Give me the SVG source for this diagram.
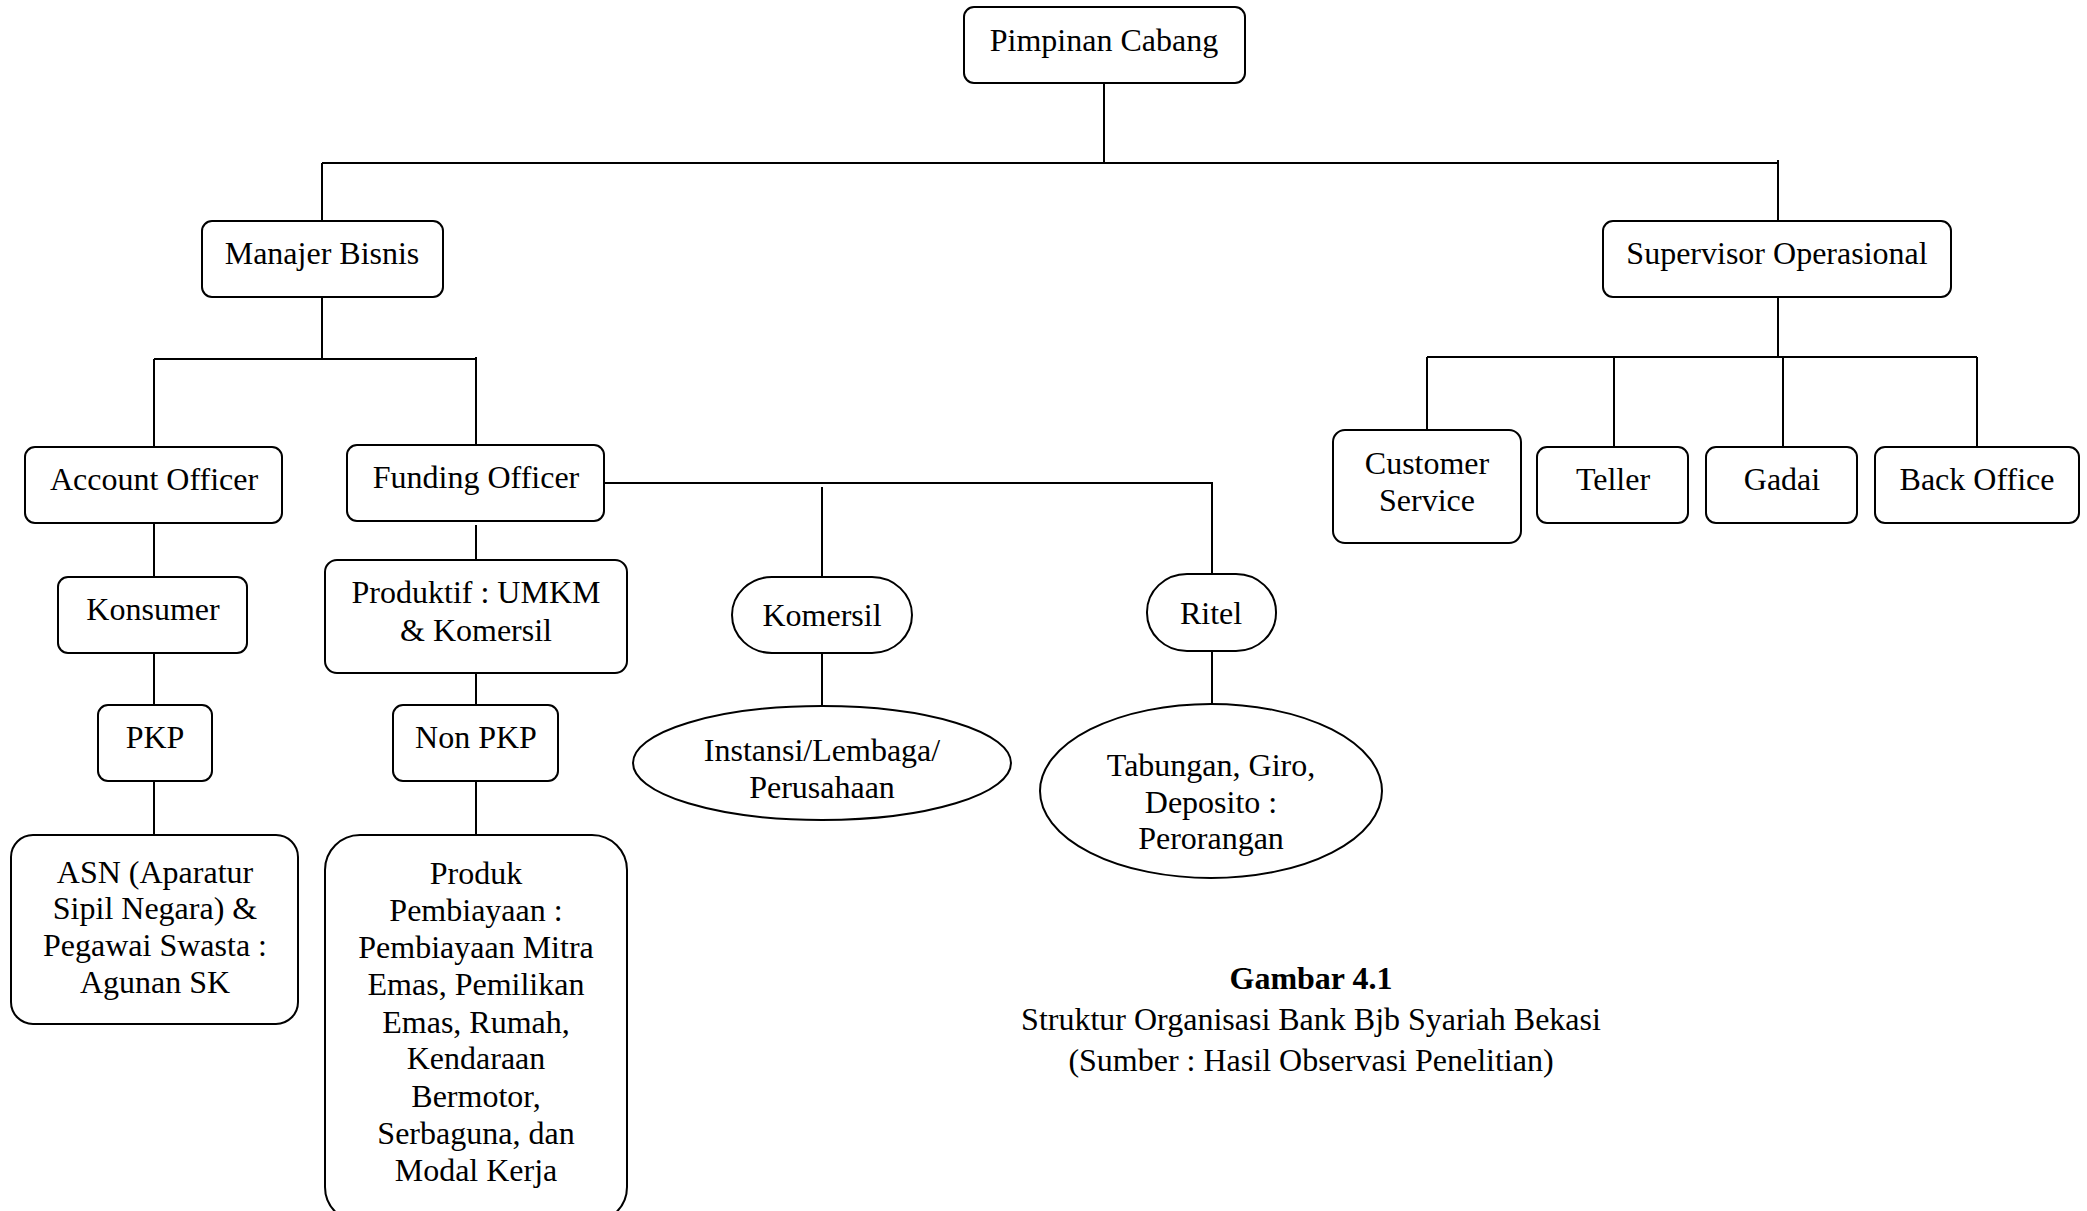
<svg xmlns="http://www.w3.org/2000/svg" width="2087" height="1211" viewBox="0 0 2087 1211">
  <style>
    .box { fill: #fff; stroke: #000; stroke-width: 2; }
    .ln { fill: none; stroke: #000; stroke-width: 2; }
    text { font-family: "Liberation Serif", "Times New Roman", serif; font-size: 32px; fill: #000; text-anchor: middle; }
    .bold { font-weight: bold; }
  </style>
  <rect width="2087" height="1211" fill="#fff"/>

  <!-- connectors -->
  <g id="connectors" class="ln">
    <path d="M1104 83 V163"/>
    <path d="M322 163 H1778"/>
    <path d="M322 163 V221"/>
    <path d="M1778 160 V221"/>
    <path d="M322 297 V359"/>
    <path d="M154 359 H476"/>
    <path d="M154 359 V447"/>
    <path d="M476 357 V445"/>
    <path d="M154 523 V577"/>
    <path d="M154 653 V705"/>
    <path d="M154 781 V835"/>
    <path d="M476 525 V560"/>
    <path d="M476 673 V705"/>
    <path d="M476 781 V835"/>
    <path d="M604 483 H1212 V574"/>
    <path d="M822 487 V577"/>
    <path d="M822 653 V707"/>
    <path d="M1212 651 V705"/>
    <path d="M1778 297 V357"/>
    <path d="M1427 357 H1977"/>
    <path d="M1427 357 V432"/>
    <path d="M1614 357 V447"/>
    <path d="M1783 357 V447"/>
    <path d="M1977 357 V447"/>
  </g>

  <g id="pimpinan-cabang">
    <rect class="box" x="964" y="7" width="281" height="76" rx="10"/>
    <text x="1104" y="51">Pimpinan Cabang</text>
  </g>

  <g id="manajer-bisnis">
    <rect class="box" x="202" y="221" width="241" height="76" rx="10"/>
    <text x="322" y="264">Manajer Bisnis</text>
  </g>

  <g id="supervisor-operasional">
    <rect class="box" x="1603" y="221" width="348" height="76" rx="10"/>
    <text x="1777" y="264">Supervisor Operasional</text>
  </g>

  <g id="account-officer">
    <rect class="box" x="25" y="447" width="257" height="76" rx="10"/>
    <text x="154" y="490">Account Officer</text>
  </g>

  <g id="konsumer">
    <rect class="box" x="58" y="577" width="189" height="76" rx="10"/>
    <text x="153" y="620">Konsumer</text>
  </g>

  <g id="pkp">
    <rect class="box" x="98" y="705" width="114" height="76" rx="10"/>
    <text x="155" y="748">PKP</text>
  </g>

  <g id="asn">
    <rect class="box" x="11" y="835" width="287" height="189" rx="22"/>
    <text x="155" y="883">ASN (Aparatur</text>
    <text x="155" y="919">Sipil Negara) &amp;</text>
    <text x="155" y="956">Pegawai Swasta :</text>
    <text x="155" y="993">Agunan SK</text>
  </g>

  <g id="funding-officer">
    <rect class="box" x="347" y="445" width="257" height="76" rx="10"/>
    <text x="476" y="488">Funding Officer</text>
  </g>

  <g id="produktif">
    <rect class="box" x="325" y="560" width="302" height="113" rx="12"/>
    <text x="476" y="603">Produktif : UMKM</text>
    <text x="476" y="641">&amp; Komersil</text>
  </g>

  <g id="non-pkp">
    <rect class="box" x="393" y="705" width="165" height="76" rx="10"/>
    <text x="476" y="748">Non PKP</text>
  </g>

  <g id="produk-pembiayaan">
    <rect class="box" x="325" y="835" width="302" height="387" rx="35"/>
    <text x="476" y="884">Produk</text>
    <text x="476" y="921">Pembiayaan :</text>
    <text x="476" y="958">Pembiayaan Mitra</text>
    <text x="476" y="995">Emas, Pemilikan</text>
    <text x="476" y="1033">Emas, Rumah,</text>
    <text x="476" y="1069">Kendaraan</text>
    <text x="476" y="1107">Bermotor,</text>
    <text x="476" y="1144">Serbaguna, dan</text>
    <text x="476" y="1181">Modal Kerja</text>
  </g>

  <g id="komersil">
    <rect class="box" x="732" y="577" width="180" height="76" rx="40" ry="38"/>
    <text x="822" y="626">Komersil</text>
  </g>

  <g id="instansi">
    <ellipse class="box" cx="822" cy="763" rx="189" ry="57"/>
    <text x="822" y="761">Instansi/Lembaga/</text>
    <text x="822" y="798">Perusahaan</text>
  </g>

  <g id="ritel">
    <rect class="box" x="1147" y="574" width="129" height="77" rx="40" ry="38"/>
    <text x="1211" y="624">Ritel</text>
  </g>

  <g id="tabungan">
    <ellipse class="box" cx="1211" cy="791" rx="171" ry="87"/>
    <text x="1211" y="776">Tabungan, Giro,</text>
    <text x="1211" y="813">Deposito :</text>
    <text x="1211" y="849">Perorangan</text>
  </g>

  <g id="customer-service">
    <rect class="box" x="1333" y="430" width="188" height="113" rx="12"/>
    <text x="1427" y="474">Customer</text>
    <text x="1427" y="511">Service</text>
  </g>

  <g id="teller">
    <rect class="box" x="1537" y="447" width="151" height="76" rx="10"/>
    <text x="1613" y="490">Teller</text>
  </g>

  <g id="gadai">
    <rect class="box" x="1706" y="447" width="151" height="76" rx="10"/>
    <text x="1782" y="490">Gadai</text>
  </g>

  <g id="back-office">
    <rect class="box" x="1875" y="447" width="204" height="76" rx="10"/>
    <text x="1977" y="490">Back Office</text>
  </g>

  <!-- figure caption -->
  <g id="caption">
    <text class="bold" x="1311" y="989">Gambar 4.1</text>
    <text x="1311" y="1030">Struktur Organisasi Bank Bjb Syariah Bekasi</text>
    <text x="1311" y="1071">(Sumber : Hasil Observasi Penelitian)</text>
  </g>
</svg>
